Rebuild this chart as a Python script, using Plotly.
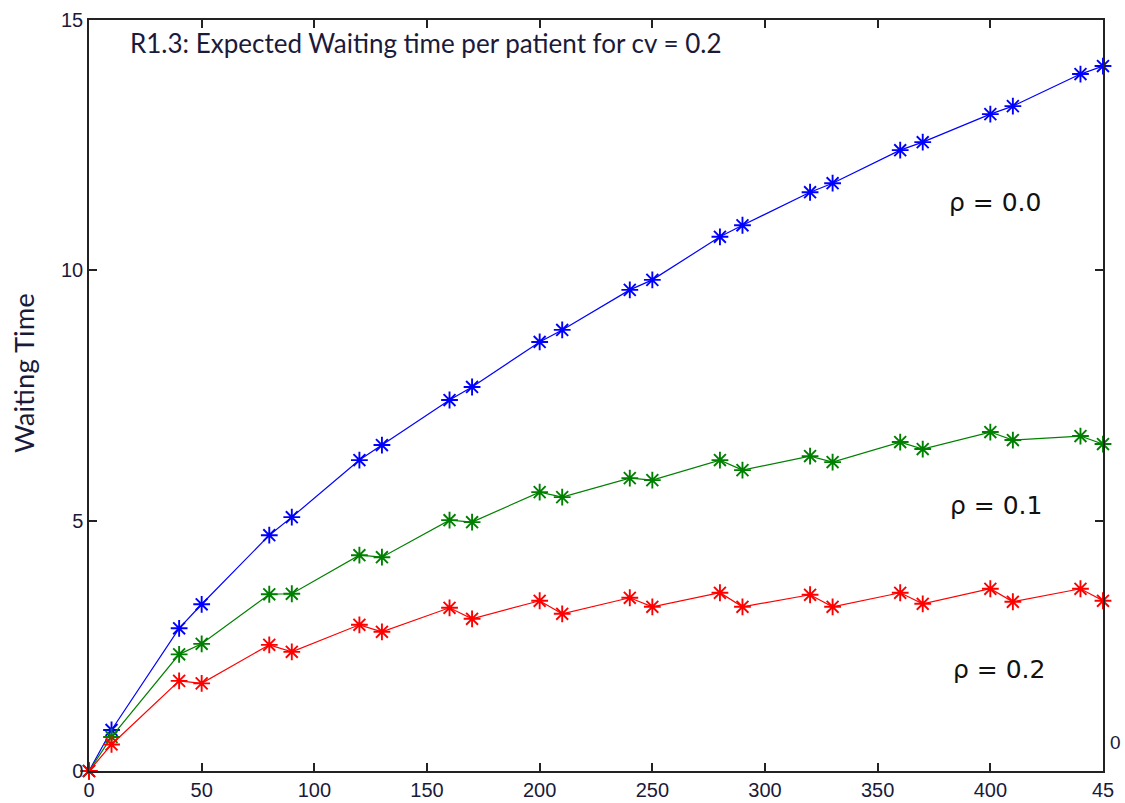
import plotly.graph_objects as go

# Number of patients (x) and expected waiting time for each correlation level
patients = [0, 10, 40, 50, 80, 90, 120, 130, 160, 170, 200, 210,
            240, 250, 280, 290, 320, 330, 360, 370, 400, 410, 440, 450]

wait_rho_00 = [0, 0.82, 2.85, 3.33, 4.71, 5.07, 6.21, 6.51, 7.41, 7.67, 8.57, 8.81,
               9.61, 9.81, 10.67, 10.90, 11.56, 11.74, 12.40, 12.56, 13.12, 13.28, 13.92, 14.08]
wait_rho_01 = [0, 0.68, 2.33, 2.54, 3.53, 3.54, 4.31, 4.27, 5.01, 4.97, 5.57, 5.47,
               5.85, 5.81, 6.21, 6.01, 6.29, 6.17, 6.57, 6.43, 6.77, 6.61, 6.69, 6.53]
wait_rho_02 = [0, 0.53, 1.80, 1.75, 2.52, 2.38, 2.92, 2.78, 3.26, 3.04, 3.40, 3.14,
               3.46, 3.28, 3.56, 3.28, 3.52, 3.28, 3.56, 3.34, 3.64, 3.38, 3.64, 3.40]

x_tickvals = [0, 50, 100, 150, 200, 250, 300, 350, 400, 450]
x_ticktext = ["0", "50", "100", "150", "200", "250", "300", "350", "400", "45"]
y_tickvals = [0, 5, 10, 15]

series = [
    (wait_rho_00, "#0000ff", "ρ = 0.0"),
    (wait_rho_01, "#008000", "ρ = 0.1"),
    (wait_rho_02, "#ff0000", "ρ = 0.2"),
]

fig = go.Figure()
for values, color, name in series:
    fig.add_trace(go.Scatter(
        x=patients, y=values, mode="lines+markers", name=name,
        line=dict(color=color, width=1.2),
        marker=dict(symbol="asterisk-open", size=14,
                    line=dict(color=color, width=1.9)),
        cliponaxis=False,
    ))

axis_common = dict(
    showgrid=False, zeroline=False, showline=True, mirror="ticks",
    linecolor="#222222", linewidth=1.5, ticks="inside", ticklen=8,
    tickcolor="#222222", tickwidth=1.5, automargin=False,
    tickfont=dict(family="Liberation Sans, Arial", size=20, color="#1a1a3a"),
)

fig.update_layout(
    width=1125, height=803,
    margin=dict(l=89, r=22, t=20, b=32),
    paper_bgcolor="white", plot_bgcolor="white",
    showlegend=False,
    xaxis=dict(range=[0, 450], tickvals=x_tickvals, ticktext=x_ticktext, **axis_common),
    yaxis=dict(range=[0, 15], tickvals=y_tickvals, **axis_common),
)

# Y-axis title
fig.add_annotation(
    text="Waiting Time", xref="paper", yref="paper", x=-0.064, y=0.53,
    xanchor="center", yanchor="middle", textangle=-90, showarrow=False,
    font=dict(family="Lato", size=27.5, color="#1a1a3a"),
)

# Chart title inside the plot area
fig.add_annotation(
    text="R1.3: Expected Waiting time per patient for cv = 0.2",
    xref="paper", yref="paper", x=0.0385, y=0.969, xanchor="left", yanchor="middle",
    showarrow=False, font=dict(family="Lato", size=26, color="#1a1a3a"),
)

# Series labels
label_pos = [(402, 11.36), (402.5, 5.31), (404, 2.02)]
for (values, color, name), (lx, ly) in zip(series, label_pos):
    fig.add_annotation(
        text=name, x=lx, y=ly, xref="x", yref="y", showarrow=False,
        font=dict(family="DejaVu Sans", size=25, color="#111111"),
    )

# Stray tick label on the right edge
fig.add_annotation(
    text="0", xref="paper", yref="paper", x=1.005, y=0.0386,
    xanchor="left", yanchor="middle",
    showarrow=False, font=dict(family="Liberation Sans, Arial", size=19, color="#1a1a3a"),
)

fig.write_html("out.html")
